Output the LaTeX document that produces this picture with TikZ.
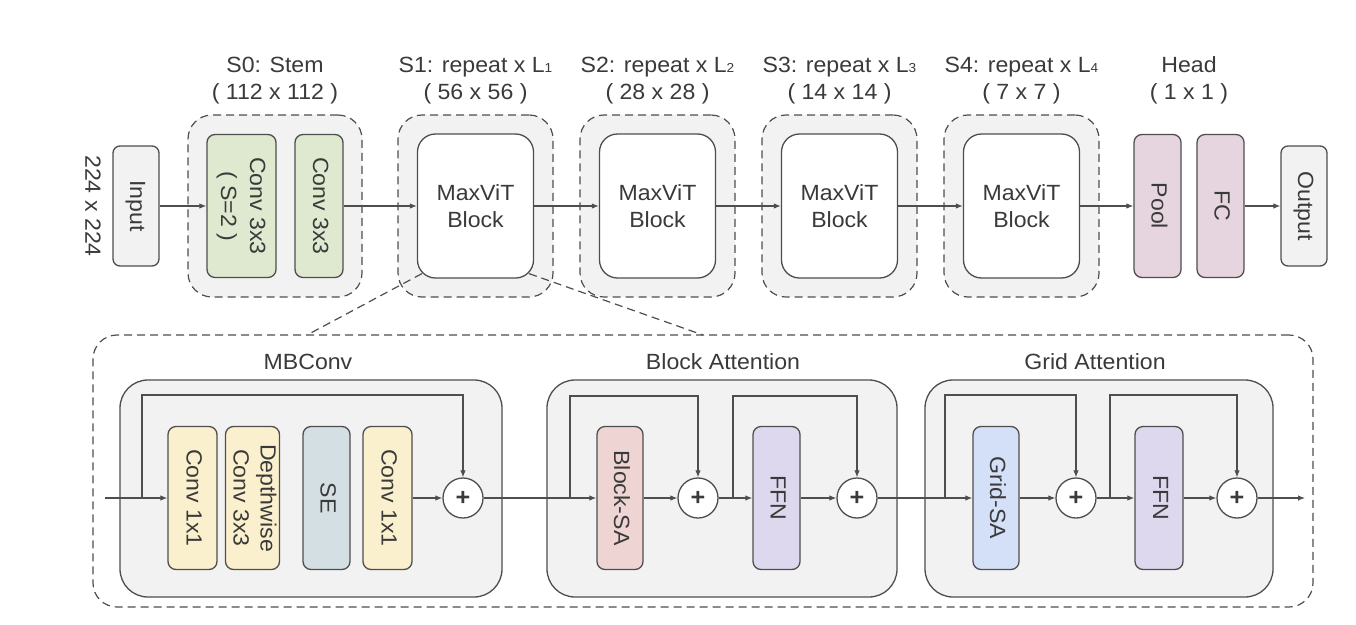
\documentclass[tikz,border=0pt]{standalone}
\usepackage{fontspec}
\setmainfont[FakeStretch=1.05]{Liberation Sans}
\usetikzlibrary{arrows.meta,calc}

\definecolor{ink}{HTML}{3A3A3A}
\definecolor{edge}{HTML}{4E4E4E}
\definecolor{panel}{HTML}{F2F2F2}
\definecolor{stemgreen}{HTML}{DFE9D0}
\definecolor{headpink}{HTML}{E6D4DF}
\definecolor{convyellow}{HTML}{FBF0CD}
\definecolor{segray}{HTML}{D4DFE3}
\definecolor{blockred}{HTML}{EFD4D4}
\definecolor{ffnpurple}{HTML}{DDD8EE}
\definecolor{gridblue}{HTML}{D4DFF8}

% vertical (top-to-bottom) text, one or more lines
\newcommand{\vlabel}[1]{\rotatebox{-90}{\begin{tabular}{@{}c@{}}#1\end{tabular}}}
% small index digit after a stage letter
\newcommand{\idx}[1]{{\fontsize{13}{13}\selectfont #1}}

\pgfdeclarelayer{paper}
\pgfdeclarelayer{back}
\pgfsetlayers{paper,back,main}

\tikzset{
  every node/.style={font=\fontsize{22}{29}\selectfont, text=ink},
  stagebox/.style={draw=edge, fill=panel, dash pattern=on 8pt off 5pt,
    rounded corners=24pt, line width=1.2pt},
  frame/.style={draw=edge, dash pattern=on 8pt off 5pt,
    rounded corners=24pt, line width=1.2pt},
  groupbox/.style={draw=edge, fill=panel, rounded corners=28pt, line width=1.3pt},
  layer/.style={draw=edge, line width=1.3pt, rounded corners=8pt, inner sep=0pt,
    minimum height=143pt},
  io/.style={layer, fill=panel, rounded corners=7pt, minimum width=46pt,
    minimum height=120pt},
  maxvit/.style={draw=edge, fill=white, rounded corners=18pt, line width=1.3pt,
    minimum width=116pt, minimum height=144pt, align=center,
    font=\fontsize{22}{27}\selectfont},
  sum/.style={circle, draw=edge, fill=white, minimum size=40pt, inner sep=0pt,
    line width=1.3pt, font=\fontsize{24}{24}\selectfont\bfseries},
  flow/.style={draw=edge, line width=1.1pt, -{Latex[length=7pt,width=5.5pt]}},
  zoomline/.style={draw=edge, line width=1.2pt, dash pattern=on 8pt off 5pt},
  title/.style={align=center, font=\fontsize{22}{27}\selectfont},
}

\begin{document}
\begin{tikzpicture}[x=1pt, y=-1pt]
\useasboundingbox (0,0) rectangle (1356,624);
\begin{pgfonlayer}{paper}
  \fill[white] (0,0) rectangle (1356,624);
\end{pgfonlayer}

% ---------------- containers ----------------
\begin{pgfonlayer}{back}
  \node[stagebox, minimum width=174pt, minimum height=182pt] (stem) at (275,206) {};
  \node[stagebox, minimum width=155pt, minimum height=182pt] (st1) at (475.5,206) {};
  \node[stagebox, minimum width=155pt, minimum height=182pt] (st2) at (657.5,206) {};
  \node[stagebox, minimum width=155pt, minimum height=182pt] (st3) at (839.5,206) {};
  \node[stagebox, minimum width=155pt, minimum height=182pt] (st4) at (1021.5,206) {};

  \node[frame, minimum width=1220pt, minimum height=272pt] (zoom) at (703,471) {};
  \node[groupbox, minimum width=382pt, minimum height=217pt] (gmb) at (311,488.5) {};
  \node[groupbox, minimum width=350pt, minimum height=217pt] (gba) at (722,488.5) {};
  \node[groupbox, minimum width=348pt, minimum height=217pt] (gga) at (1099,488.5) {};
\end{pgfonlayer}

% ---------------- stage titles ----------------
\node[title] (t0) at (275,80.5) {S0: Stem\\( 112 x 112 )};
\node[title] (t1) at (475.5,80.5) {S1: repeat x L\idx{1}\\( 56 x 56 )};
\node[title] (t2) at (657.5,80.5) {S2: repeat x L\idx{2}\\( 28 x 28 )};
\node[title] (t3) at (839.5,80.5) {S3: repeat x L\idx{3}\\( 14 x 14 )};
\node[title] (t4) at (1021.5,80.5) {S4: repeat x L\idx{4}\\( 7 x 7 )};
\node[title] (th) at (1189,80.5) {Head\\( 1 x 1 )};

\node[title] (tmb) at (308,362) {MBConv};
\node[title] (tba) at (723,362) {Block Attention};
\node[title] (tga) at (1095,362) {Grid Attention};

% ---------------- top row ----------------
\node (res) at (93,206) {\rotatebox{-90}{224 x 224}};
\node[io] (input) at (136,206) {\vlabel{Input}};
\node[layer, fill=stemgreen, minimum width=69pt] (conva) at (241.5,206) {\vlabel{Conv 3x3\\( S=2 )}};
\node[layer, fill=stemgreen, minimum width=48pt] (convb) at (319,206) {\vlabel{Conv 3x3}};
\node[maxvit] (b1) at (475.5,206) {MaxViT\\Block};
\node[maxvit] (b2) at (657.5,206) {MaxViT\\Block};
\node[maxvit] (b3) at (839.5,206) {MaxViT\\Block};
\node[maxvit] (b4) at (1021.5,206) {MaxViT\\Block};
\node[layer, fill=headpink, minimum width=47pt] (pool) at (1157.5,206) {\vlabel{Pool}};
\node[layer, fill=headpink, minimum width=47pt] (fc) at (1220.5,206) {\vlabel{FC}};
\node[io] (output) at (1304,206) {\vlabel{Output}};

\draw[flow] (input) -- (conva);
\draw[flow] (convb) -- (b1);
\draw[flow] (b1) -- (b2);
\draw[flow] (b2) -- (b3);
\draw[flow] (b3) -- (b4);
\draw[flow] (b4) -- (pool);
\draw[flow] (fc) -- (output);

% zoom-in lines from the first block to the detail frame
\coordinate (zl) at (307,335);
\coordinate (zr) at (703,335);
\draw[zoomline] ($(b1.south west)+(5,-5)$) -- (zl);
\draw[zoomline] ($(b1.south east)+(-5,-5)$) -- (zr);

% ---------------- MBConv ----------------
\node[layer, fill=convyellow, minimum width=49pt] (m1) at (192.5,498) {\vlabel{Conv 1x1}};
\node[layer, fill=convyellow, minimum width=49pt, font=\fontsize{22}{27}\selectfont] (m2) at (252.5,498) {\vlabel{Depthwise\\Conv 3x3}};
\node[layer, fill=segray, minimum width=47pt] (m3) at (326.5,498) {\vlabel{SE}};
\node[layer, fill=convyellow, minimum width=49pt] (m4) at (387.5,498) {\vlabel{Conv 1x1}};
\node[sum] (mplus) at (463,498) {+};

\coordinate (xin) at (105,498);
\coordinate (msplit) at (142,498);
\draw[flow] (xin) -- (m1);
\draw[flow] (msplit) -- ++(0,-103) -| (mplus.north);
\draw[flow] (m4) -- (mplus);

% ---------------- Block Attention ----------------
\node[layer, fill=blockred, minimum width=46pt] (bsa) at (620,498) {\vlabel{Block-SA}};
\node[sum] (bplus1) at (698,498) {+};
\node[layer, fill=ffnpurple, minimum width=47pt] (bffn) at (776.5,498) {\vlabel{FFN}};
\node[sum] (bplus2) at (857,498) {+};

\coordinate (bsplit1) at (570,498);
\coordinate (bsplit2) at (733,498);
\draw[flow] (mplus) -- (bsa);
\draw[flow] (bsplit1) -- ++(0,-102) -| (bplus1.north);
\draw[flow] (bsa) -- (bplus1);
\draw[flow] (bplus1) -- (bffn);
\draw[flow] (bsplit2) -- ++(0,-102) -| (bplus2.north);
\draw[flow] (bffn) -- (bplus2);

% ---------------- Grid Attention ----------------
\node[layer, fill=gridblue, minimum width=46pt] (gsa) at (996,498) {\vlabel{Grid-SA}};
\node[sum] (gplus1) at (1076,498) {+};
\node[layer, fill=ffnpurple, minimum width=48pt] (gffn) at (1159,498) {\vlabel{FFN}};
\node[sum] (gplus2) at (1237,498) {+};

\coordinate (gsplit1) at (945,498);
\coordinate (gsplit2) at (1110,498);
\coordinate (xout) at (1305,498);
\draw[flow] (bplus2) -- (gsa);
\draw[flow] (gsplit1) -- ++(0,-103) -| (gplus1.north);
\draw[flow] (gsa) -- (gplus1);
\draw[flow] (gplus1) -- (gffn);
\draw[flow] (gsplit2) -- ++(0,-103) -| (gplus2.north);
\draw[flow] (gffn) -- (gplus2);
\draw[flow] (gplus2) -- (xout);
\end{tikzpicture}
\end{document}
